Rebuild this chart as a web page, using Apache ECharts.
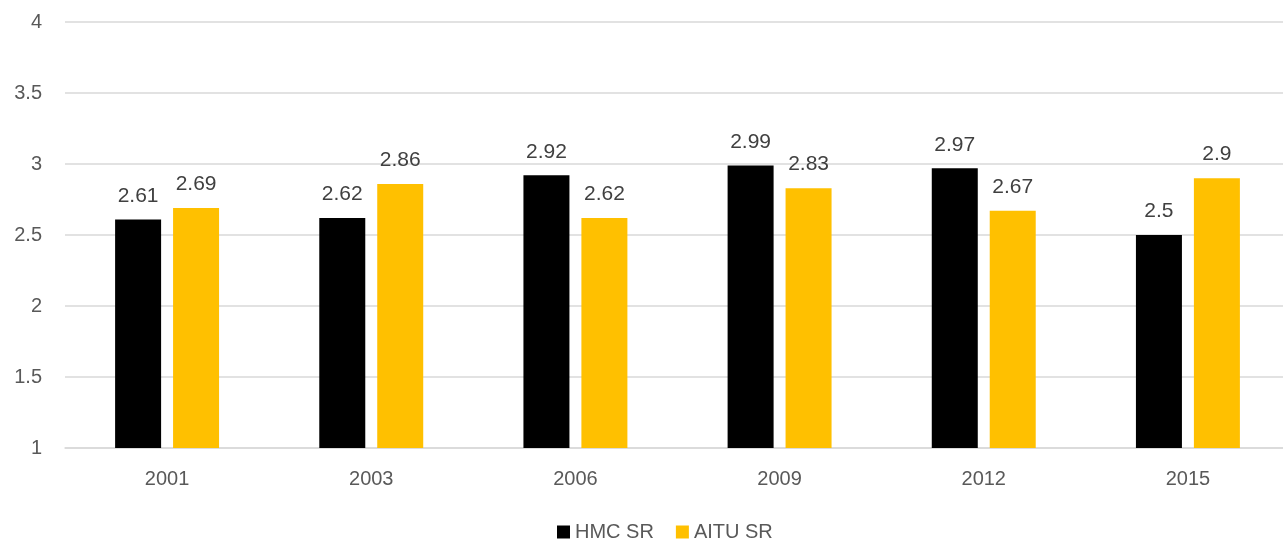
<!DOCTYPE html>
<html><head><meta charset="utf-8">
<script src="https://cdn.jsdelivr.net/npm/echarts@6/dist/echarts.min.js"></script>
<style>html,body{margin:0;padding:0;background:#fff;overflow:hidden;width:1283px;height:544px}#c{width:1290px;height:544px}</style>
</head><body><div id="c"></div>
<script>
const categories = ['2001','2003','2006','2009','2012','2015'];
const hmcSR = [2.61, 2.62, 2.92, 2.99, 2.97, 2.5];
const aituSR = [2.69, 2.86, 2.62, 2.83, 2.67, 2.9];
const seriesNames = ['HMC SR','AITU SR'];
const FONT = 'Liberation Sans';
const chart = echarts.init(document.getElementById('c'), null, {renderer:'canvas'});
const lbl = {show:true, position:'top', distance:13, color:'#404040', fontSize:21, fontFamily:FONT};
chart.setOption({
  animation:false,
  textStyle:{fontFamily:FONT},
  grid:{left:65, top:22, right:0, height:426, containLabel:false},
  legend:{top:517, left:552, itemWidth:13, itemHeight:13, itemGap:22,
    textStyle:{color:'#595959', fontSize:20, fontFamily:FONT},
    icon:'rect', data:seriesNames},
  xAxis:{type:'category', data:categories,
    axisLine:{lineStyle:{color:'#d9d9d9', width:1.5}}, axisTick:{show:false},
    axisLabel:{color:'#595959', fontSize:20, fontFamily:FONT, margin:21}},
  yAxis:{type:'value', min:1, max:4, interval:0.5,
    axisLine:{show:false}, axisTick:{show:false},
    splitLine:{lineStyle:{color:'#d9d9d9', width:1.5}},
    axisLabel:{color:'#595959', fontSize:20, fontFamily:FONT, margin:23}},
  series:[
    {name:seriesNames[0], type:'bar', data:hmcSR, barWidth:46, barGap:'26%', itemStyle:{color:'#000000'}, label:lbl},
    {name:seriesNames[1], type:'bar', data:aituSR, barWidth:46, barGap:'26%', itemStyle:{color:'#ffc000'}, label:lbl}
  ]
});
</script></body></html>
